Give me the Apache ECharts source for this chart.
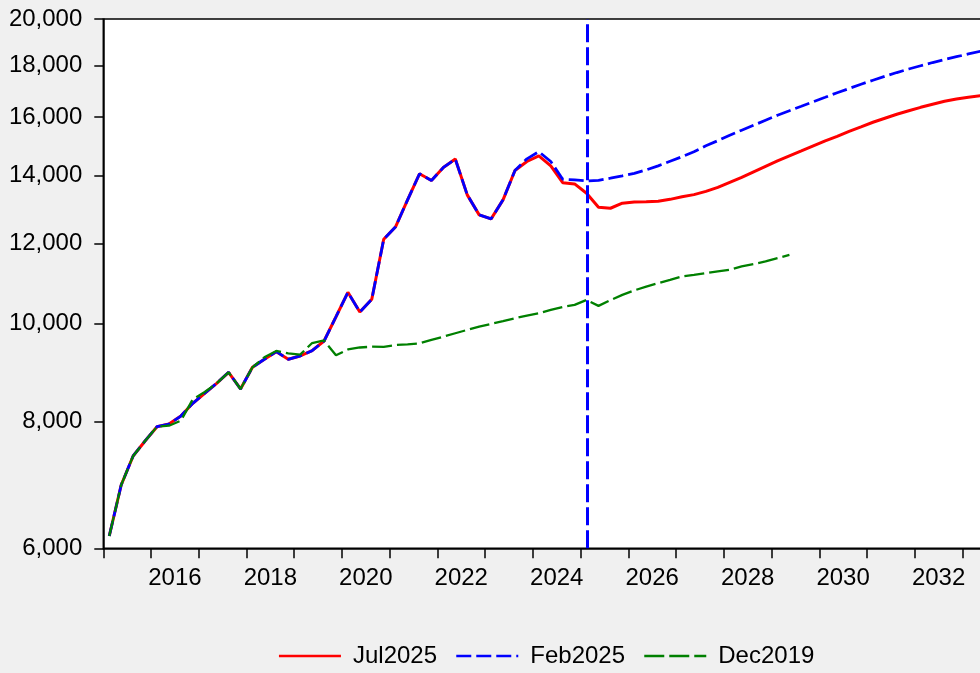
<!DOCTYPE html>
<html>
<head>
<meta charset="utf-8">
<script src="https://cdn.jsdelivr.net/npm/echarts@6/dist/echarts.min.js"></script>
<style>
  html, body { margin: 0; padding: 0; background: #f0f0f0; }
  #chart { width: 980px; height: 673px; }
</style>
</head>
<body>
<div id="chart"></div>
<script>
// Quarterly series, first observation 2015Q1
const startYear = 2015;

const seriesNames = ['Jul2025', 'Feb2025', 'Dec2019'];

const jul2025 = [
  6170, 6929, 7402, 7659,
  7912, 7960, 8106, 8344,
  8537, 8733, 8954, 8621,
  9057, 9223, 9384, 9223,
  9293, 9405, 9614, 10160,
  10740, 10270, 10571, 12118,
  12470, 13255, 14065, 13853,
  14268, 14543, 13406, 12810,
  12694, 13255, 14171, 14463,
  14647, 14322, 13784, 13744,
  13456, 13034, 13004, 13153,
  13192, 13200, 13210, 13270,
  13346, 13413, 13514, 13638,
  13795, 13953, 14128, 14306,
  14486, 14652, 14818, 14988,
  15160, 15316, 15490, 15650,
  15813, 15958, 16104, 16232,
  16360, 16473, 16585, 16670,
  16738, 16796
];

const feb2025 = [
  6170, 6929, 7402, 7659,
  7912, 7960, 8106, 8344,
  8537, 8733, 8954, 8621,
  9057, 9223, 9384, 9223,
  9293, 9405, 9614, 10160,
  10740, 10270, 10571, 12118,
  12470, 13255, 14065, 13853,
  14268, 14543, 13406, 12810,
  12694, 13255, 14171, 14551,
  14790, 14463, 13892, 13870,
  13838, 13854, 13924, 13998,
  14078, 14190, 14321, 14470,
  14620, 14787, 14991, 15163,
  15354, 15530, 15707, 15887,
  16069, 16234, 16400, 16569,
  16739, 16912, 17074, 17242,
  17400, 17559, 17707, 17849,
  17983, 18115, 18238, 18355,
  18471, 18586
];

const dec2019 = [
  6170, 6929, 7402, 7659,
  7912, 7930, 8021, 8420,
  8562, 8733, 8954, 8621,
  9057, 9265, 9400, 9350,
  9320, 9571, 9626, 9307,
  9431, 9474, 9491, 9485,
  9527, 9542, 9564, 9637,
  9710, 9786, 9860, 9934,
  9996, 10058, 10127, 10187,
  10243, 10320, 10390, 10437,
  10557, 10414, 10550, 10678,
  10788, 10882, 10966, 11049,
  11137, 11175, 11218, 11264,
  11308, 11393, 11452, 11523,
  11610, 11695
];

const yTickValues = [6000, 8000, 10000, 12000, 14000, 16000, 18000, 20000];
const yearTicks = [2015, 2016, 2017, 2018, 2019, 2020, 2021, 2022, 2023, 2024, 2025,
                   2026, 2027, 2028, 2029, 2030, 2031, 2032, 2033, 2034, 2035];
const yearLabels = [2016, 2018, 2020, 2022, 2024, 2026, 2028, 2030, 2032];

// forecast marker: 2025Q1
const markerYear = 2025;
const markerQuarter = 1;

const FONT = '"Liberation Sans", Arial, Helvetica, sans-serif';

// each quarterly observation sits at the middle of its quarter
function quarterX(i) { return startYear + (i + 0.5) / 4; }
function toPoints(values) { return values.map((v, i) => [quarterX(i), v]); }

const chart = echarts.init(document.getElementById('chart'), null, { renderer: 'canvas' });

chart.setOption({
  animation: false,
  backgroundColor: '#f0f0f0',
  grid: {
    left: 103.3,
    top: 19,
    width: 954.6,
    height: 529.3,
    outerBoundsMode: 'none',
    containLabel: false,
    show: true,
    backgroundColor: '#ffffff',
    borderColor: '#000000',
    borderWidth: 1.5
  },
  xAxis: {
    type: 'value',
    min: 2015,
    max: 2035,
    axisLine: { show: true, lineStyle: { color: '#000', width: 1.5 } },
    axisTick: {
      show: true,
      customValues: yearTicks,
      length: 10,
      lineStyle: { color: '#000', width: 1.5 }
    },
    axisLabel: {
      customValues: yearLabels.map(y => y + 0.5),
      formatter: v => String(Math.floor(v)),
      margin: 18,
      fontSize: 24,
      fontFamily: FONT,
      color: '#000'
    },
    splitLine: { show: false }
  },
  yAxis: {
    type: 'log',
    min: 6000,
    max: 20000,
    axisLine: { show: true, lineStyle: { color: '#000', width: 1.5 } },
    axisTick: {
      show: true,
      customValues: yTickValues,
      length: 9,
      lineStyle: { color: '#000', width: 1.5 }
    },
    axisLabel: {
      customValues: yTickValues,
      formatter: v => Math.round(v).toLocaleString('en-US'),
      margin: 21,
      fontSize: 24,
      fontFamily: FONT,
      color: '#000'
    },
    splitLine: { show: false }
  },
  legend: {
    left: 272.7,
    top: 639,
    itemWidth: 62,
    itemHeight: 24,
    itemGap: 18,
    data: seriesNames,
    itemStyle: { opacity: 0 },
    lineStyle: { width: 2.5 },
    textStyle: {
      fontSize: 24,
      fontFamily: FONT,
      color: '#000',
      padding: [0, 0, 0, 7]
    }
  },
  series: [
    {
      name: seriesNames[0],
      type: 'line',
      data: toPoints(jul2025),
      symbol: 'none',
      color: '#ff0000',
      lineStyle: { color: '#ff0000', width: 3 },
      z: 2
    },
    {
      name: seriesNames[1],
      type: 'line',
      data: toPoints(feb2025),
      symbol: 'none',
      color: '#0000ff',
      lineStyle: { color: '#0000ff', width: 2.8, type: [15, 5] },
      z: 3,
      markLine: {
        silent: true,
        symbol: 'none',
        label: { show: false },
        lineStyle: { color: '#0000ff', width: 3, type: [18, 5] },
        data: [{ xAxis: markerYear + (markerQuarter - 0.5) / 4 }]
      }
    },
    {
      name: seriesNames[2],
      type: 'line',
      data: toPoints(dec2019),
      symbol: 'none',
      color: '#008000',
      lineStyle: { color: '#008000', width: 2.3, type: [20, 5] },
      z: 4
    }
  ]
});
</script>
</body>
</html>
